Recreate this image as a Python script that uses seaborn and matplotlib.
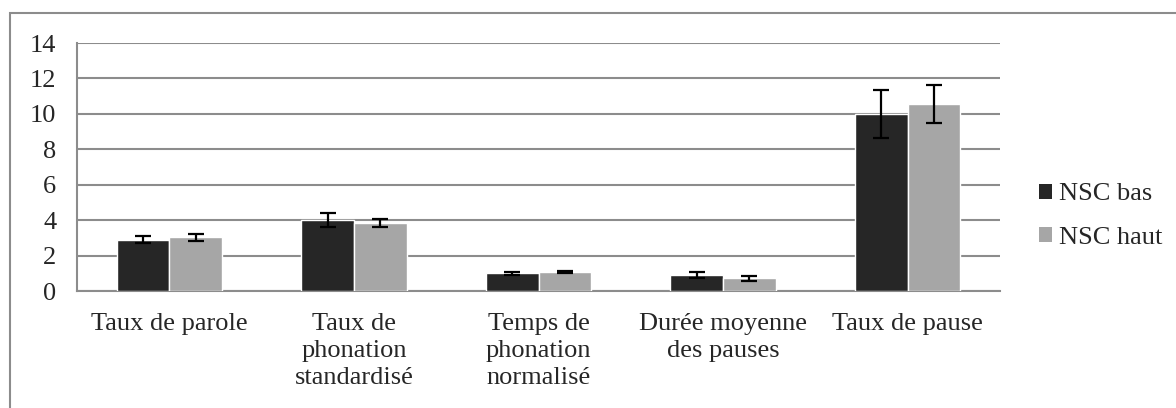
import numpy as np
import pandas as pd
import matplotlib
matplotlib.use("Agg")
import matplotlib.pyplot as plt
from matplotlib.patches import Rectangle, Patch
import seaborn as sns

# valeurs
categories = ["Taux de parole", "Taux de\nphonation\nstandardisé", "Temps de\nphonation\nnormalisé",
              "Durée moyenne\ndes pauses", "Taux de pause"]
groups = ["NSC bas", "NSC haut"]
nsc_bas = [2.89, 4.02, 1.00, 0.90, 10.0]
nsc_haut = [3.03, 3.84, 1.06, 0.71, 10.55]
err_bas = [0.20, 0.39, 0.08, 0.18, 1.37]
err_haut = [0.18, 0.20, 0.07, 0.12, 1.09]
colors = ["#262626", "#a6a6a6"]

df = pd.DataFrame({
    "cat": categories * 2,
    "groupe": [groups[0]] * 5 + [groups[1]] * 5,
    "val": nsc_bas + nsc_haut,
})

sns.set_style("white")
plt.rcParams['font.family'] = 'serif'
plt.rcParams['font.serif'] = ['Liberation Serif', 'Times New Roman', 'DejaVu Serif']
fs = 19

fig = plt.figure(figsize=(11.76, 4.08), dpi=100)
ax = fig.add_axes([77 / 1176, 1 - 291 / 408, (1000 - 77) / 1176, (291 - 43) / 408])

# cadre extérieur
fig.patches.append(Rectangle((10 / 1176, -0.1), 1.2, 1 - 13 / 408 + 0.1, transform=fig.transFigure,
                             fill=False, edgecolor="#8c8c8c", linewidth=1.5, zorder=0))

sns.barplot(data=df, x="cat", y="val", hue="groupe", palette=colors, width=0.57,
            saturation=1, errorbar=None, ax=ax, legend=False, zorder=3)

for cont, errs in zip(ax.containers, [err_bas, err_haut]):
    xs = [p.get_x() + p.get_width() / 2 for p in cont.patches]
    ys = [p.get_height() for p in cont.patches]
    ax.errorbar(xs, ys, yerr=errs, fmt="none", ecolor="black", elinewidth=1.6,
                capsize=6, capthick=1.6, zorder=4)

ax.set_ylim(0, 14)
ax.set_xlim(-0.5, 4.5)
ax.set_yticks(np.arange(0, 15, 2))
ax.set_xticks(range(5))
ax.set_xticklabels(categories, fontsize=fs, linespacing=1.28, va="top")
ax.set_xticks(np.arange(-0.5, 5, 1), minor=True)
ax.tick_params(axis="x", which="major", length=0, pad=16)
ax.tick_params(axis="x", which="minor", length=7, color="#8c8c8c", width=1.5, direction="out")
ax.tick_params(axis="y", labelsize=fs, length=7, color="#8c8c8c", width=1.5, direction="out", pad=8)
ax.set_xlabel("")
ax.set_ylabel("")
ax.yaxis.grid(True, color="#8c8c8c", linewidth=1.5, zorder=0)
ax.set_axisbelow(True)
for s in ["top", "right"]:
    ax.spines[s].set_visible(False)
for s in ["left", "bottom"]:
    ax.spines[s].set_color("#8c8c8c")
    ax.spines[s].set_linewidth(1.5)

handles = [Patch(facecolor=c, edgecolor="none") for c in colors]
fig.legend(handles, groups, loc="center left", bbox_to_anchor=(1039 / 1176, 1 - 216 / 408),
           frameon=False, fontsize=fs, handlelength=0.5, handleheight=0.5,
           handletextpad=0.25, labelspacing=0.8, borderpad=0, borderaxespad=0)

fig.savefig("out.png", dpi=100)
